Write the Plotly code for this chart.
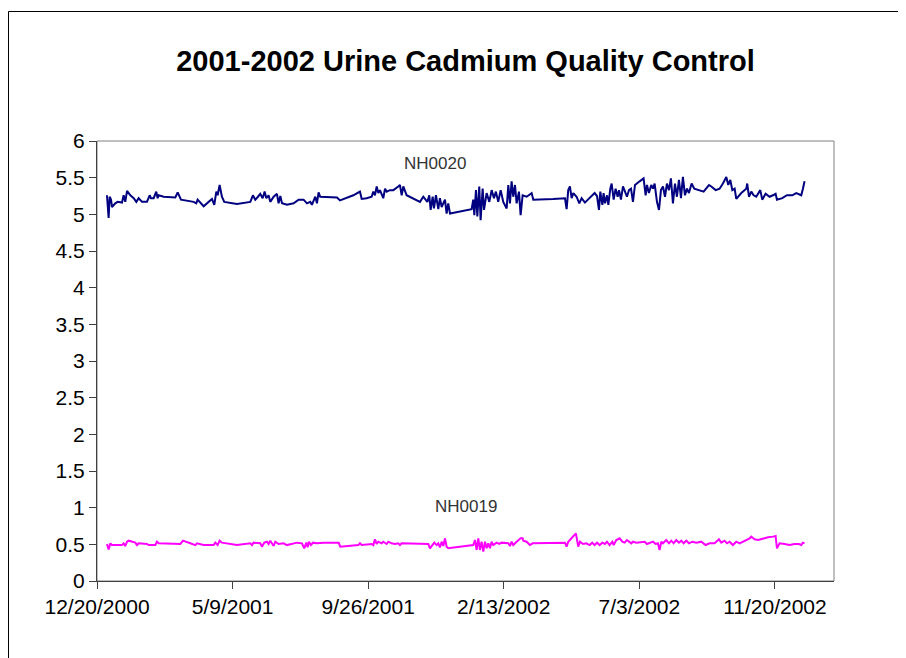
import pandas as pd
import plotly.graph_objects as go

BASE_DATE = "2000-12-20"

# NH0020 (day offset from BASE_DATE, concentration)
nh0020_days = [10.3, 12.0, 13.1, 14.5, 15.5, 18.9, 21.3, 25.8, 27.5, 29.2, 31.0, 34.4, 37.9, 40.6, 43.0, 46.5,
               51.6, 54.4, 55.7, 58.5, 61.2, 62.6, 63.7, 68.8, 80.9, 83.3, 86.7, 99.8, 102.5, 103.9, 110.1,
               118.7, 121.1, 123.2, 124.6, 126.6, 129.0, 131.4, 144.5, 158.3, 161.0, 163.4, 166.2, 168.6,
               171.0, 173.1, 174.8, 177.2, 178.9, 182.4, 185.8, 187.5, 189.3, 191.0, 196.1, 203.0, 208.2,
               213.3, 216.8, 220.2, 221.9, 225.4, 227.1, 228.8, 230.5, 247.8,
               250.9, 264.7, 271.5, 273.3, 278.4, 283.6, 285.3, 287.0, 288.8, 290.5, 292.2, 293.9, 295.6,
               297.4, 299.1, 302.5, 306.0, 311.1, 312.8, 314.6, 316.3, 319.7, 333.5, 336.9, 341.1, 343.1,
               344.5, 346.6, 347.9, 350.0, 352.4, 354.1, 355.9, 359.3, 361.0, 362.7, 364.5, 386.8, 388.5,
               389.6, 391.3, 392.7, 394.7, 396.1, 398.2, 399.6, 402.3, 405.1, 407.5, 409.9, 411.9, 414.3,
               416.8, 419.5, 423.0, 424.7, 426.4, 428.1, 429.8, 431.6, 433.3, 435.7, 437.4, 439.5, 443.6,
               448.8, 450.5, 471.1, 483.2, 484.9, 486.6, 488.3, 490.1, 491.8, 495.2, 498.0, 500.4,
               503.8, 507.0, 513.8, 516.3, 518.3, 519.7, 521.8, 523.1, 524.5, 526.6, 528.0, 530.0, 531.4,
               533.5, 535.5, 537.6, 539.0, 541.0, 543.1, 545.2, 547.2, 549.3, 551.4, 553.4, 555.5, 560.3,
               564.4, 566.5, 567.9, 569.9, 572.3, 574.1, 575.8, 578.2, 580.3, 582.3, 584.4, 586.5, 588.5,
               590.6, 592.6, 594.7, 596.8, 598.8, 600.9, 603.0, 605.0, 607.1, 609.2, 611.2, 614.0, 616.7,
               622.2, 626.4, 631.9, 634.3, 638.8, 642.9, 646.3, 649.8, 651.8, 653.9, 656.0, 658.4, 660.1,
               665.3, 670.4, 671.4, 673.2, 675.6, 678.0, 680.7, 684.9, 686.9, 690.4, 694.5, 697.9, 700.7,
               702.1, 707.6, 712.4, 717.9, 722.0, 727.2, 728.9, 730.6]
nh0020_values = [5.26, 4.95, 5.24, 5.20, 5.10, 5.15, 5.17, 5.16, 5.26, 5.17, 5.32, 5.26, 5.22, 5.17, 5.22, 5.17,
                 5.17, 5.26, 5.22, 5.22, 5.31, 5.22, 5.26, 5.24, 5.23, 5.30, 5.20, 5.17, 5.15, 5.20, 5.11,
                 5.21, 5.13, 5.31, 5.26, 5.40, 5.24, 5.17, 5.14, 5.17, 5.26, 5.20, 5.24, 5.28,
                 5.22, 5.31, 5.22, 5.26, 5.17, 5.24, 5.28, 5.15, 5.25, 5.15, 5.13, 5.15, 5.20,
                 5.20, 5.15, 5.17, 5.13, 5.24, 5.15, 5.30, 5.24, 5.23,
                 5.19, 5.26, 5.31, 5.21, 5.22, 5.24, 5.31, 5.26, 5.38, 5.29, 5.33, 5.26, 5.22,
                 5.35, 5.31, 5.33, 5.33, 5.38, 5.40, 5.26, 5.38, 5.26, 5.17, 5.24, 5.17, 5.26,
                 5.06, 5.24, 5.08, 5.26, 5.07, 5.22, 5.10, 5.20, 5.01, 5.15, 5.01, 5.07, 5.20,
                 4.99, 5.33, 4.97, 5.38, 4.92, 5.35, 5.06, 5.29, 5.17, 5.33, 5.22, 5.31, 5.17,
                 5.33, 5.17, 5.08, 5.40, 5.15, 5.45, 5.24, 5.40, 5.15, 5.31, 4.99, 5.26, 5.24,
                 5.29, 5.20, 5.21, 5.22, 5.07, 5.33, 5.38, 5.22, 5.29, 5.24, 5.15, 5.22,
                 5.16, 5.20, 5.29, 5.25, 5.06, 5.31, 5.13, 5.29, 5.15, 5.26, 5.13, 5.35, 5.42,
                 5.20, 5.35, 5.24, 5.33, 5.20, 5.38, 5.31, 5.24, 5.33, 5.35, 5.17, 5.40, 5.45,
                 5.49, 5.26, 5.40, 5.29, 5.40, 5.35, 5.42, 5.17, 5.06, 5.33, 5.38, 5.24, 5.42,
                 5.33, 5.49, 5.15, 5.42, 5.24, 5.47, 5.22, 5.51, 5.26, 5.35, 5.29, 5.42, 5.35,
                 5.33, 5.31, 5.40, 5.38, 5.33, 5.35, 5.42, 5.51, 5.40, 5.47, 5.33, 5.35, 5.21,
                 5.29, 5.35, 5.42, 5.24, 5.31, 5.26, 5.24, 5.33, 5.20, 5.28, 5.24, 5.26, 5.28,
                 5.20, 5.22, 5.26, 5.26, 5.29, 5.26, 5.35, 5.45]

# NH0019 (day offset from BASE_DATE, concentration)
nh0019_days = [10.3, 12.0, 13.8, 15.5, 20.6, 25.8, 27.5, 29.2, 31.0, 32.7, 39.6, 41.3, 43.0, 51.6, 53.3, 60.2,
               61.9, 63.7, 86.0, 88.8, 96.3, 101.5, 103.2, 110.1, 120.4, 122.2, 124.6, 126.6, 129.0, 144.5,
               158.3, 160.0, 161.7, 168.6, 170.3, 172.7, 175.5, 177.2, 178.9, 180.7, 182.4, 184.1, 187.5,
               192.7, 196.1, 206.5, 211.6, 214.0, 216.1, 217.5, 218.8, 220.9, 223.0, 227.1, 234.0, 249.5,
               251.2, 269.8, 271.5, 273.3, 283.6, 285.3, 287.0, 288.8, 290.5, 293.9, 295.6, 299.1, 300.8,
               304.2, 307.7, 311.1, 312.8, 314.6, 342.1, 343.8, 346.6, 348.3, 350.7, 352.4, 354.1, 355.9,
               357.6, 359.3, 361.0, 362.7, 388.5, 390.3, 392.0, 393.7, 395.4, 397.1, 398.9, 400.6, 402.3,
               404.0, 405.7, 407.5, 409.2, 412.6, 415.4, 417.8, 424.7, 426.4, 428.1, 429.8, 433.3, 435.7,
               437.4, 439.5, 440.2, 443.6, 447.0, 449.8, 471.1, 483.2, 484.9, 486.6, 488.3, 491.8, 494.5,
               496.9, 498.7, 501.8, 505.2, 508.7, 511.4, 513.8, 516.3, 519.0, 521.8, 524.5, 526.6, 529.3,
               532.1, 533.5, 536.2, 539.7, 542.4, 544.8, 547.2, 551.7, 553.4, 556.9, 565.5, 567.9, 570.6,
               574.1, 576.8, 579.2, 580.9, 582.7, 584.4, 587.8, 590.6, 593.0, 595.4, 598.1, 600.9, 603.3,
               605.7, 608.5, 611.2, 614.7, 618.8, 624.0, 628.4, 632.6, 637.7, 642.2, 644.6, 648.0, 650.5,
               653.2, 656.6, 660.1, 663.5, 667.0, 670.4, 673.9, 675.6, 679.0, 682.5, 687.6, 692.8, 698.0,
               700.7, 702.1, 704.8, 710.0, 715.1, 720.3, 724.8, 727.2, 728.9, 730.6]
nh0019_values = [0.505, 0.43, 0.514, 0.49, 0.49, 0.49, 0.514, 0.477, 0.536, 0.55, 0.523, 0.49, 0.514, 0.505, 0.49, 0.49,
                 0.536, 0.514, 0.505, 0.55, 0.514, 0.49, 0.514, 0.49, 0.49, 0.523, 0.49, 0.55, 0.523, 0.49,
                 0.514, 0.49, 0.523, 0.514, 0.468, 0.523, 0.536, 0.505, 0.55, 0.514, 0.477, 0.536, 0.505,
                 0.514, 0.49, 0.523, 0.514, 0.446, 0.523, 0.459, 0.536, 0.49, 0.523, 0.514, 0.523, 0.523,
                 0.468, 0.49, 0.514, 0.49, 0.505, 0.49, 0.568, 0.505, 0.536, 0.514, 0.536, 0.505, 0.536,
                 0.514, 0.505, 0.514, 0.49, 0.514, 0.505, 0.446, 0.49, 0.523, 0.49, 0.514, 0.459, 0.536,
                 0.477, 0.582, 0.468, 0.446, 0.49, 0.559, 0.423, 0.582, 0.423, 0.536, 0.40, 0.536, 0.446,
                 0.514, 0.446, 0.536, 0.49, 0.523, 0.505, 0.523, 0.514, 0.477, 0.536, 0.49, 0.536, 0.568,
                 0.582, 0.582, 0.55, 0.536, 0.49, 0.514, 0.514, 0.523, 0.468, 0.536, 0.559, 0.605, 0.65,
                 0.468, 0.536, 0.505, 0.514, 0.49, 0.523, 0.49, 0.523, 0.49, 0.523, 0.505, 0.536, 0.49,
                 0.536, 0.49, 0.559, 0.582, 0.536, 0.523, 0.559, 0.514, 0.536, 0.523, 0.536, 0.505, 0.523,
                 0.536, 0.505, 0.514, 0.423, 0.536, 0.514, 0.559, 0.514, 0.55, 0.514, 0.559, 0.523, 0.55,
                 0.514, 0.55, 0.514, 0.536, 0.523, 0.536, 0.491, 0.514, 0.514, 0.568, 0.523, 0.55, 0.514,
                 0.536, 0.491, 0.536, 0.514, 0.536, 0.55, 0.582, 0.605, 0.568, 0.559, 0.582, 0.596, 0.605,
                 0.614, 0.446, 0.514, 0.505, 0.491, 0.505, 0.505, 0.491, 0.523, 0.514]

tick_dates = ["2000-12-20", "2001-05-09", "2001-09-26", "2002-02-13", "2002-07-03", "2002-11-20"]
tick_labels = ["12/20/2000", "5/9/2001", "9/26/2001", "2/13/2002", "7/3/2002", "11/20/2002"]
y_ticks = [0, 0.5, 1, 1.5, 2, 2.5, 3, 3.5, 4, 4.5, 5, 5.5, 6]
y_tick_labels = ["0", "0.5", "1", "1.5", "2", "2.5", "3", "3.5", "4", "4.5", "5", "5.5", "6"]
x_range = ["2000-12-20", "2003-01-20"]

base = pd.Timestamp(BASE_DATE)
x20 = base + pd.to_timedelta(nh0020_days, unit="D")
x19 = base + pd.to_timedelta(nh0019_days, unit="D")

FONT = "Liberation Sans, Arial, sans-serif"

# figure is offset by the page's 8px body margin, so it is sized to fit the window
W, H = 898, 650
L, R, T, B = 89, 72, 133, 77
PW, PH = W - L - R, H - T - B

fig = go.Figure()
fig.add_trace(go.Scatter(x=x20, y=nh0020_values, mode="lines", name="NH0020",
                         line=dict(color="#000080", width=2)))
fig.add_trace(go.Scatter(x=x19, y=nh0019_values, mode="lines", name="NH0019",
                         line=dict(color="#FF00FF", width=2)))

fig.update_layout(
    width=W, height=H,
    margin=dict(l=L, r=R, t=T, b=B),
    paper_bgcolor="white", plot_bgcolor="white",
    showlegend=False,
    font=dict(family=FONT, color="black"),
    title=dict(text="<b>2001-2002 Urine Cadmium Quality Control</b>",
               x=0.5, xref="paper", xanchor="center",
               y=1 - 53 / H, yref="container", yanchor="middle",
               font=dict(size=29, family=FONT, color="black")),
)

fig.update_xaxes(type="date", range=x_range, tickvals=tick_dates, ticktext=tick_labels,
                 showgrid=False, zeroline=False, showline=True, linecolor="#404040", linewidth=1,
                 ticks="outside", ticklen=7, tickcolor="#404040",
                 tickfont=dict(size=21, family=FONT, color="black"))
fig.update_yaxes(range=[0, 6], tickvals=y_ticks, ticktext=y_tick_labels,
                 showgrid=False, zeroline=False, showline=True, linecolor="#404040", linewidth=1,
                 ticks="outside", ticklen=7, tickcolor="#404040",
                 tickfont=dict(size=21, family=FONT, color="black"))

# plot-area frame (gray) and outer chart border
fig.add_shape(type="rect", xref="paper", yref="paper", x0=0, y0=0, x1=1, y1=1,
              line=dict(color="#808080", width=1), layer="below")
fig.add_shape(type="rect", xref="paper", yref="paper",
              x0=(0.5 - L) / PW, y0=(H - B - 3.5) / PH, x1=(W + 10 - L) / PW, y1=(-B - 10) / PH,
              line=dict(color="black", width=1), layer="below")

fig.add_annotation(x="2001-12-04", y=5.70, text="NH0020", showarrow=False,
                   font=dict(size=17, family=FONT, color="#333333"))
fig.add_annotation(x="2002-01-05", y=1.01, text="NH0019", showarrow=False,
                   font=dict(size=17, family=FONT, color="#333333"))

fig.write_html("out.html")
